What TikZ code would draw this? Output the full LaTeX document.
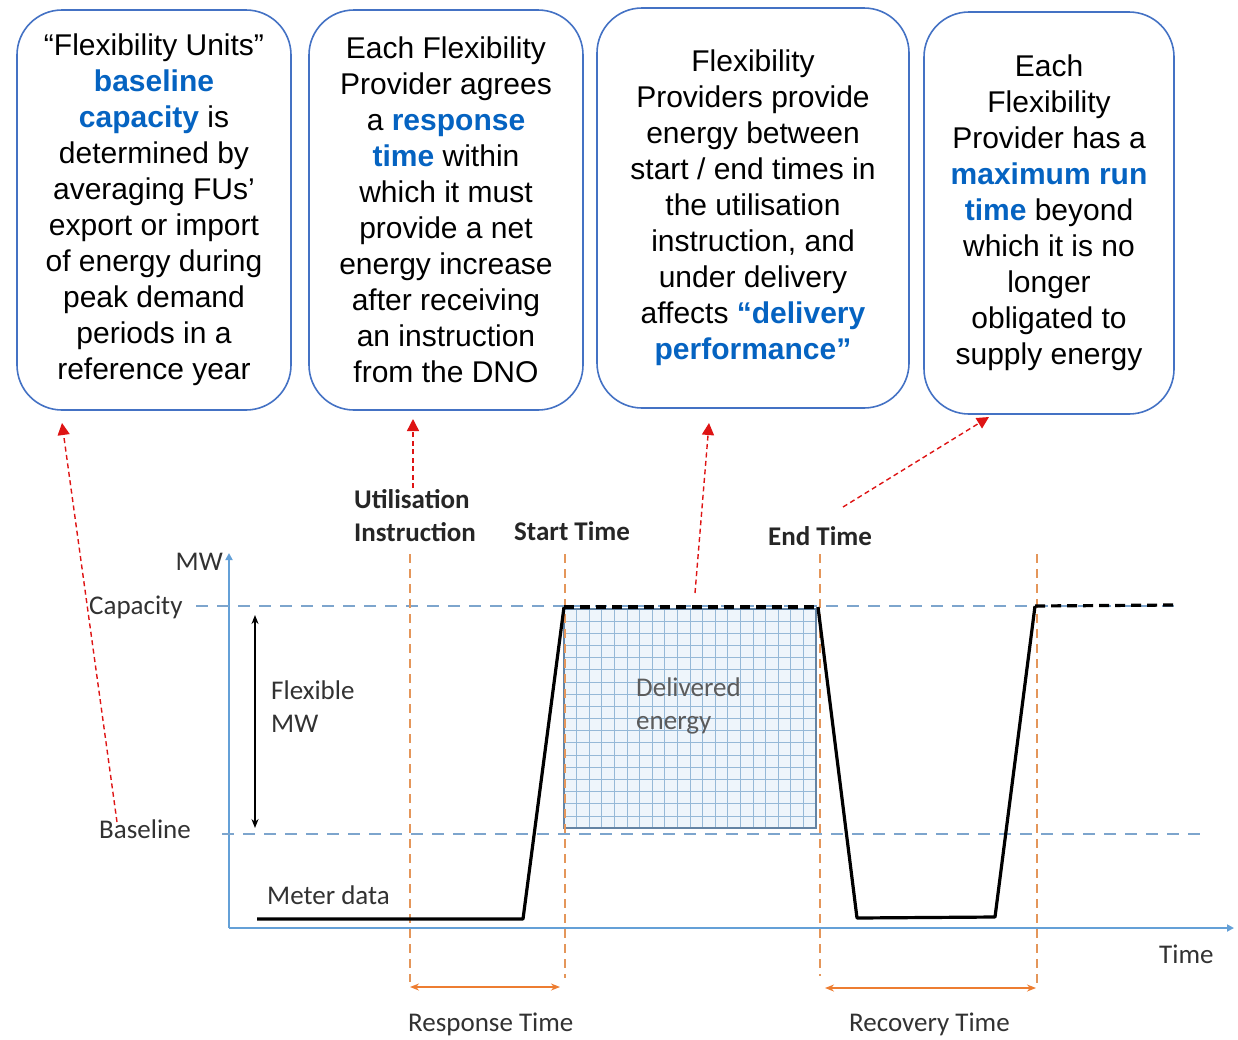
\documentclass[tikz,border=0pt]{standalone}
\usepackage{fontspec}
\setmainfont{Liberation Sans}
\newfontfamily\calibri{Carlito}
\usetikzlibrary{arrows.meta}

\definecolor{boxblue}{RGB}{68,114,196}
\definecolor{keyblue}{RGB}{5,99,193}
\definecolor{axisblue}{RGB}{100,160,215}
\definecolor{levelblue}{RGB}{125,165,205}
\definecolor{timeorange}{RGB}{228,150,90}
\definecolor{spanorange}{RGB}{237,125,49}
\definecolor{linkred}{RGB}{222,20,20}
\definecolor{labelgray}{RGB}{50,50,50}
\definecolor{gridblue}{RGB}{150,185,215}
\definecolor{gridfill}{RGB}{238,245,251}

\newcommand{\keyword}[1]{\textcolor{keyblue}{\bfseries #1}}

\begin{document}
\begin{tikzpicture}[x=1pt, y=-1pt,
  infobox/.style={draw=boxblue, line width=1.6pt, rounded corners=45pt, align=center,
    font=\fontsize{30}{36}\selectfont, inner sep=0pt},
  lbl/.style={font=\calibri\fontsize{27}{33}\selectfont, text=labelgray, inner sep=0pt, align=left},
  blbl/.style={lbl, font=\calibri\bfseries\fontsize{27}{33}\selectfont, text=black!85},
  axis/.style={axisblue, line width=2.4pt, -{Triangle[width=7pt,length=7pt]}},
  level/.style={levelblue, line width=2.2pt, dash pattern=on 12pt off 9pt},
  timeline/.style={timeorange, line width=2pt, dash pattern=on 9pt off 6pt},
  meter/.style={black, line width=3.2pt, line join=round},
  link/.style={linkred, line width=1.4pt, dash pattern=on 5pt off 3.5pt, -{Triangle[width=12pt,length=12pt]}},
  span/.style={spanorange, line width=1.8pt, {Stealth[length=9pt,width=7pt]}-{Stealth[length=9pt,width=7pt]}},
]
\useasboundingbox (0,0) rectangle (1238,1039);

% 说明框
\node[infobox, minimum width=274pt, minimum height=400pt] (box1) at (154,210)
  {“Flexibility Units”\\ \keyword{baseline}\\ \keyword{capacity} is\\ determined by\\
   averaging FUs’\\ export or import\\ of energy during\\ peak demand\\ periods in a\\ reference year};
\node[infobox, minimum width=274pt, minimum height=400pt] (box2) at (446,210)
  {Each Flexibility\\ Provider agrees\\ a \keyword{response}\\ \keyword{time} within\\
   which it must\\ provide a net\\ energy increase\\ after receiving\\ an instruction\\ from the DNO};
\node[infobox, minimum width=312pt, minimum height=400pt] (box3) at (753,208)
  {Flexibility\\ Providers provide\\ energy between\\ start / end times in\\ the utilisation\\
   instruction, and\\ under delivery\\ affects \keyword{“delivery}\\ \keyword{performance”}};
\node[infobox, minimum width=250pt, minimum height=402pt] (box4) at (1049,213)
  {Each\\ Flexibility\\ Provider has a\\ \keyword{maximum run}\\ \keyword{time} beyond\\
   which it is no\\ longer\\ obligated to\\ supply energy};

% 坐标系
\coordinate (o) at (229,928);
\coordinate (xend) at (1234,928);
\coordinate (yend) at (229,553);
\draw[axis] (o) -- (xend);
\draw[axis] (o) -- (yend);
\node[lbl, anchor=base east] (mw) at (223,570) {MW};
\node[lbl, anchor=base west] (time) at (1159,963) {Time};

% 容量线和基线
\coordinate (cap0) at (196,606);
\coordinate (cap1) at (1175,606);
\coordinate (base0) at (222,834);
\coordinate (base1) at (1204,834);
\draw[level] (cap0) -- (cap1);
\draw[level] (base0) -- (base1);
\node[lbl, anchor=base west] (capacity) at (89,614) {Capacity};
\node[lbl, anchor=base west] (baseline) at (99,838) {Baseline};

% 可调功率
\coordinate (flex0) at (255,615);
\coordinate (flex1) at (255,828);
\draw[black, line width=1.8pt, {Stealth[length=9pt,width=7pt]}-{Stealth[length=9pt,width=7pt]}] (flex0) -- (flex1);
\node[lbl, anchor=base west] (flexmw) at (271,732) {Flexible\\MW};

% 交付电量
\fill[gridfill] (564,609) rectangle (816,828);
\foreach \i in {1,...,19}
  \draw[gridblue, line width=0.8pt] (564+\i*12.6,609) -- (564+\i*12.6,828);
\foreach \j in {1,...,17}
  \draw[gridblue, line width=0.8pt] (564,609+\j*12.17) -- (816,609+\j*12.17);
\draw[levelblue!80!black, line width=1.4pt] (564,609) rectangle (816,828);
\node[lbl, anchor=base west, text=labelgray!80] (energy) at (636,729) {Delivered\\energy};

% 时间点
\foreach \x/\yb in {410/982, 565/978, 820/976, 1037/984}
  \draw[timeline] (\x,554) -- (\x,\yb);
\node[blbl, anchor=base west] (instr) at (354,541) {Utilisation\\Instruction};
\node[blbl, anchor=base west] (start) at (514,540) {Start Time};
\node[blbl, anchor=base west] (finish) at (768,545) {End Time};

% 电表数据
\draw[meter] (257,919) -- (523,919) -- (564,607);
\draw[meter, dash pattern=on 10pt off 6pt] (564,607) -- (818,607);
\draw[meter] (818,607) -- (857,918) -- (995,917) -- (1035,606);
\draw[meter, dash pattern=on 10pt off 6pt] (1035,606) -- (1175,605);
\node[lbl, anchor=base west] (meter) at (267,904) {Meter data};

% 响应时间和恢复时间
\coordinate (resp0) at (410,987);
\coordinate (resp1) at (560,987);
\coordinate (rec0) at (825,988);
\coordinate (rec1) at (1036,988);
\draw[span] (resp0) -- (resp1);
\draw[span] (rec0) -- (rec1);
\node[lbl, anchor=base west] (resptime) at (408,1031) {Response Time};
\node[lbl, anchor=base west] (rectime) at (849,1031) {Recovery Time};

% 指向说明框的箭头
\coordinate (p1) at (117,822);
\coordinate (t1) at (62,423);
\coordinate (p2) at (413,488);
\coordinate (t2) at (413,419);
\coordinate (p3) at (695,593);
\coordinate (t3) at (709,423);
\coordinate (p4) at (843,507);
\coordinate (t4) at (989,417);
\draw[link] (p1) -- (t1);
\draw[link] (p2) -- (t2);
\draw[link] (p3) -- (t3);
\draw[link] (p4) -- (t4);
\end{tikzpicture}
\end{document}
